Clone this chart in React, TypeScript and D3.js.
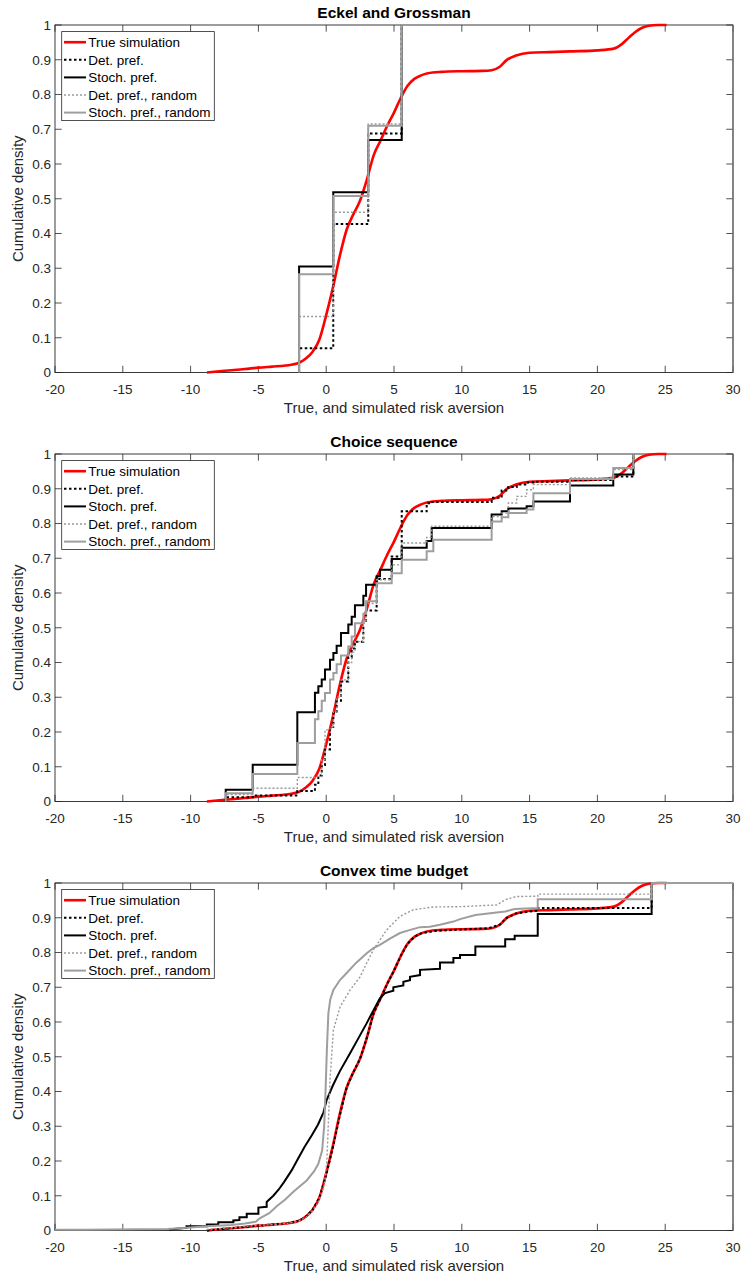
import * as d3 from "d3";

type Pt = [number, number];

// true simulated CDF (same in all three panels)
const trueSimulation: Pt[] = [
  [-8.8, 0], [-7.5, 0.005], [-6, 0.01], [-5, 0.014], [-4, 0.017], [-3, 0.02], [-2, 0.028],
  [-1.5, 0.04], [-1, 0.06], [-0.5, 0.095], [0, 0.165], [0.5, 0.245], [1, 0.335], [1.5, 0.41],
  [2, 0.455], [2.5, 0.495], [3, 0.555], [3.5, 0.625], [4, 0.667], [4.5, 0.71], [5, 0.748],
  [5.5, 0.79], [6, 0.825], [6.5, 0.845], [7, 0.855], [7.5, 0.861], [8.5, 0.865], [10, 0.867],
  [11.5, 0.868], [12.2, 0.87], [12.8, 0.88], [13.3, 0.899], [14, 0.912], [15, 0.92], [16.5, 0.922],
  [18, 0.924], [20, 0.927], [21.2, 0.932], [21.8, 0.945], [22.3, 0.963], [22.8, 0.98], [23.3, 0.992],
  [23.8, 0.998], [24.5, 1], [25.1, 1],
];

// Eckel and Grossman (step CDFs)
const egDet: Pt[] = [[-2, 0], [-2, 0.07], [0.52, 0.427], [3.1, 0.688], [5.57, 1]];
const egStoch: Pt[] = [[-2, 0], [-2, 0.305], [0.52, 0.519], [3.1, 0.669], [5.57, 1]];
const egDetRandom: Pt[] = [[-2, 0], [-2, 0.161], [0.52, 0.461], [3.1, 0.715], [5.57, 1]];
const egStochRandom: Pt[] = [[-2, 0], [-2, 0.283], [0.52, 0.508], [3.1, 0.71], [5.57, 1]];

// Choice sequence (step CDFs)
const csDet: Pt[] = [
  [-7.41, 0], [-7.41, 0.012], [-5.42, 0.017], [-2.13, 0.03], [-0.83, 0.048], [-0.58, 0.075],
  [-0.33, 0.105], [-0.09, 0.15], [0.28, 0.215], [0.53, 0.255], [0.77, 0.29], [1.09, 0.345],
  [1.63, 0.415], [1.88, 0.44], [2.12, 0.46], [2.74, 0.52], [2.94, 0.55], [3.72, 0.64], [4.83, 0.705],
  [5.57, 0.835], [7.41, 0.858], [7.78, 0.862], [12.2, 0.874], [12.94, 0.895], [13.43, 0.905],
  [14.05, 0.912], [14.78, 0.918], [15.28, 0.92], [17.98, 0.925], [21.17, 0.935], [22.65, 1],
];
const csStoch: Pt[] = [
  [-7.41, 0], [-7.41, 0.034], [-5.42, 0.106], [-2.13, 0.257], [-0.83, 0.313], [-0.58, 0.332],
  [-0.33, 0.351], [-0.09, 0.38], [0.28, 0.408], [0.53, 0.427], [0.77, 0.448], [1.09, 0.485],
  [1.63, 0.509], [1.88, 0.532], [2.12, 0.565], [2.74, 0.592], [2.94, 0.624], [3.72, 0.648],
  [3.97, 0.667], [4.83, 0.698], [5.57, 0.73], [7.41, 0.75], [7.78, 0.787], [12.2, 0.826],
  [12.94, 0.835], [13.43, 0.843], [14.78, 0.85], [15.28, 0.863], [17.98, 0.909], [21.17, 0.941],
  [22.65, 1],
];
const csDetRandom: Pt[] = [
  [-7.41, 0], [-7.41, 0.02], [-5.42, 0.038], [-2.13, 0.069], [-0.83, 0.072], [-0.33, 0.12],
  [-0.09, 0.206], [0.28, 0.215], [0.53, 0.26], [0.77, 0.3], [1.09, 0.35], [1.63, 0.4], [1.88, 0.43],
  [2.12, 0.46], [2.74, 0.52], [2.94, 0.57], [3.72, 0.638], [4.83, 0.681], [5.57, 0.744],
  [7.41, 0.76], [7.78, 0.792], [12.2, 0.82], [12.94, 0.83], [13.43, 0.859], [14.05, 0.878],
  [14.78, 0.897], [15.28, 0.912], [17.98, 0.931], [21.17, 0.955], [22.65, 1],
];
const csStochRandom: Pt[] = [
  [-7.41, 0], [-7.41, 0.024], [-5.42, 0.079], [-2.13, 0.168], [-0.83, 0.237], [-0.58, 0.26],
  [-0.33, 0.29], [-0.09, 0.312], [0.28, 0.351], [0.53, 0.37], [0.77, 0.395], [1.09, 0.42],
  [1.63, 0.446], [1.88, 0.475], [2.12, 0.513], [2.74, 0.54], [2.94, 0.576], [3.72, 0.628],
  [4.83, 0.657], [5.57, 0.696], [7.41, 0.72], [7.9, 0.753], [12.2, 0.806], [12.94, 0.818],
  [13.43, 0.83], [14.78, 0.84], [15.28, 0.887], [17.98, 0.928], [21.17, 0.96], [22.65, 1],
];

// Convex time budget (dense CDFs, drawn as lines)
const ctbDet: Pt[] = [
  [-8.8, 0], [-7.5, 0.005], [-6, 0.01], [-5, 0.014], [-4, 0.017], [-3, 0.02], [-2, 0.028],
  [-1.5, 0.04], [-1, 0.06], [-0.5, 0.095], [0, 0.16], [0.5, 0.24], [1, 0.33], [1.5, 0.41],
  [2, 0.455], [2.5, 0.495], [3, 0.555], [3.5, 0.625], [4, 0.667], [4.5, 0.71], [5, 0.748],
  [5.5, 0.79], [6, 0.825], [6.5, 0.845], [7, 0.855], [8, 0.862], [10, 0.866], [12, 0.87],
  [12.8, 0.88], [13.3, 0.9], [14, 0.912], [15, 0.918], [15.6, 0.92], [15.6, 0.928], [24, 0.928],
  [24, 1], [30, 1],
];
const ctbStoch: Pt[] = [
  [-11.6, 0.003], [-10.3, 0.008], [-10.3, 0.012], [-8.8, 0.012], [-8.8, 0.017], [-7.96, 0.017],
  [-7.96, 0.024], [-6.85, 0.024], [-6.85, 0.029], [-6.4, 0.03], [-6.4, 0.038], [-5.86, 0.038],
  [-5.86, 0.048], [-5, 0.048], [-5, 0.066], [-4.39, 0.068], [-4.39, 0.082], [-3.9, 0.1],
  [-3.5, 0.118], [-3.1, 0.14], [-2.55, 0.173], [-2.1, 0.205], [-1.6, 0.24], [-1.05, 0.275],
  [-0.6, 0.305], [-0.2, 0.34], [0.03, 0.375], [0.5, 0.418], [1, 0.458], [1.76, 0.51], [2.4, 0.555],
  [2.98, 0.596], [3.5, 0.635], [3.96, 0.668], [4.34, 0.683], [4.95, 0.69], [4.95, 0.7],
  [5.69, 0.705], [5.69, 0.716], [6.18, 0.72], [6.18, 0.73], [6.92, 0.735], [6.92, 0.75],
  [8.39, 0.753], [8.39, 0.771], [9.38, 0.771], [9.38, 0.784], [9.87, 0.784], [9.87, 0.793],
  [11, 0.793], [11, 0.817], [13.2, 0.817], [13.2, 0.838], [13.9, 0.838], [13.9, 0.848],
  [15.6, 0.848], [15.6, 0.911], [24, 0.911], [24, 1], [30, 1],
];
const ctbDetRandom: Pt[] = [
  [-8.8, 0.003], [-7, 0.008], [-6, 0.012], [-5, 0.015], [-4, 0.017], [-3, 0.02], [-2, 0.027],
  [-1.5, 0.038], [-1, 0.056], [-0.6, 0.08], [-0.3, 0.11], [-0.1, 0.14], [0.05, 0.2], [0.15, 0.3],
  [0.28, 0.433], [0.53, 0.577], [1.03, 0.644], [1.76, 0.692], [2.5, 0.73], [2.98, 0.769],
  [3.48, 0.808], [4.46, 0.865], [5.44, 0.904], [6.43, 0.923], [7.9, 0.931], [10, 0.932],
  [12.6, 0.937], [13.2, 0.952], [14, 0.961], [15.6, 0.962], [15.6, 0.968], [24, 0.968], [24, 1],
  [30, 1],
];
const ctbStochRandom: Pt[] = [
  [-20, 0.002], [-17.8, 0.002], [-11.7, 0.004], [-10.3, 0.008], [-8.8, 0.012], [-7, 0.016],
  [-6, 0.02], [-5.2, 0.025], [-4.9, 0.035], [-4.2, 0.05], [-3.65, 0.07], [-3, 0.09], [-2.4, 0.112],
  [-1.44, 0.144], [-0.9, 0.17], [-0.58, 0.192], [-0.3, 0.23], [-0.15, 0.3], [-0.05, 0.4],
  [0.05, 0.52], [0.16, 0.625], [0.3, 0.665], [0.53, 0.692], [1, 0.72], [1.51, 0.741], [2.2, 0.77],
  [2.99, 0.798], [3.48, 0.813], [3.96, 0.822], [4.7, 0.84], [5.44, 0.856], [6.2, 0.865],
  [6.92, 0.873], [7.65, 0.874], [8.39, 0.88], [9.38, 0.889], [9.87, 0.896], [11, 0.908],
  [13.2, 0.918], [13.9, 0.925], [15.6, 0.928], [15.6, 0.953], [24, 0.953], [24, 1], [30, 1],
];

const panelTitles = ["Eckel and Grossman", "Choice sequence", "Convex time budget"];
const seriesNames = ["True simulation", "Det. pref.", "Stoch. pref.", "Det. pref., random", "Stoch. pref., random"];
const xTicks = [-20, -15, -10, -5, 0, 5, 10, 15, 20, 25, 30];
const yTicks = [0, 0.1, 0.2, 0.3, 0.4, 0.5, 0.6, 0.7, 0.8, 0.9, 1];
const yTickLabels = ["0", "0.1", "0.2", "0.3", "0.4", "0.5", "0.6", "0.7", "0.8", "0.9", "1"];
const xLabel = "True, and simulated risk aversion";
const yLabel = "Cumulative density";

const panels = [
  { stepped: true, series: [trueSimulation, egDet, egStoch, egDetRandom, egStochRandom] },
  { stepped: true, series: [trueSimulation, csDet, csStoch, csDetRandom, csStochRandom] },
  { stepped: false, series: [trueSimulation, ctbDet, ctbStoch, ctbDetRandom, ctbStochRandom] },
];

const styles = [
  { color: "#ff0000", width: 2.6, dash: undefined },
  { color: "#000000", width: 2, dash: "2.5 2.5" },
  { color: "#000000", width: 2, dash: undefined },
  { color: "#999999", width: 1.4, dash: "2 2" },
  { color: "#9e9e9e", width: 2, dash: undefined },
];

const FONT = "'Liberation Sans', Arial, Helvetica, sans-serif";
const AX = "#262626";

const App = () => {
  const width = 743;
  const height = 1278;
  const left = 55;
  const right = 733;
  const h = 347.5;
  const tops = [25, 454, 883];
  const tick = 6.7;

  const x = d3.scaleLinear().domain([-20, 30]).range([left, right]);

  return (
    <svg
      width={width}
      height={height}
      style={{ position: "absolute", left: 0, top: 0, background: "#fff" }}
      fontFamily={FONT}
    >
      {panels.map((p, pi) => {
        const top = tops[pi];
        const bottom = top + h;
        const y = d3.scaleLinear().domain([0, 1]).range([bottom, top]);
        const cx = (left + right) / 2;
        const legX = 61.7;
        const legY = top + 6.6;

        return (
          <g key={pi}>
            <rect x={left} y={top} width={right - left} height={h} fill="#fff" />
            {/* ticks */}
            {xTicks.map(t => (
              <g key={"x" + t}>
                <line x1={x(t)} x2={x(t)} y1={bottom} y2={bottom - tick} stroke={AX} strokeWidth={0.8} />
                <line x1={x(t)} x2={x(t)} y1={top} y2={top + tick} stroke={AX} strokeWidth={0.8} />
                <text x={x(t)} y={bottom + 21} textAnchor="middle" fontSize={13.5} fill={AX}>
                  {t}
                </text>
              </g>
            ))}
            {yTicks.map((t, i) => (
              <g key={"y" + t}>
                <line x1={left} x2={left + tick} y1={y(t)} y2={y(t)} stroke={AX} strokeWidth={0.8} />
                <line x1={right} x2={right - tick} y1={y(t)} y2={y(t)} stroke={AX} strokeWidth={0.8} />
                <text x={51} y={y(t)} dy="0.36em" textAnchor="end" fontSize={13.5} fill={AX}>
                  {yTickLabels[i]}
                </text>
              </g>
            ))}
            <rect x={left} y={top} width={right - left} height={h} fill="none" stroke={AX} strokeWidth={0.9} />
            <line x1={right} x2={right} y1={top} y2={bottom} stroke="#7a7a7a" strokeWidth={1.4} />

            {/* curves */}
            {p.series.map((s, si) => {
              const st = styles[si];
              const curve = si === 0 ? d3.curveMonotoneX : p.stepped ? d3.curveStepAfter : d3.curveLinear;
              const line = d3
                .line<Pt>()
                .x(d => x(d[0]))
                .y(d => y(d[1]))
                .curve(curve);
              return (
                <path
                  key={si}
                  d={line(s) || ""}
                  fill="none"
                  stroke={st.color}
                  strokeWidth={st.width}
                  strokeDasharray={st.dash}
                  strokeLinejoin="miter"
                />
              );
            })}

            {/* title & labels */}
            <text x={cx} y={top - 7} textAnchor="middle" fontSize={15.5} fontWeight="bold" fill="#000">
              {panelTitles[pi]}
            </text>
            <text x={cx} y={bottom + 40.5} textAnchor="middle" fontSize={15} fill={AX}>
              {xLabel}
            </text>
            <text
              transform={`translate(22.5,${(top + bottom) / 2}) rotate(-90)`}
              textAnchor="middle"
              fontSize={15}
              fill={AX}
            >
              {yLabel}
            </text>

            {/* legend */}
            <rect x={legX} y={legY} width={152.6} height={89} fill="#fff" stroke={AX} strokeWidth={0.8} />
            {seriesNames.map((name, i) => {
              const ly = legY + 10.6 + i * 17.6;
              const st = styles[i];
              return (
                <g key={name}>
                  <line
                    x1={64}
                    x2={86}
                    y1={ly}
                    y2={ly}
                    stroke={st.color}
                    strokeWidth={st.width}
                    strokeDasharray={st.dash}
                  />
                  <text x={88.3} y={ly} dy="0.36em" fontSize={13.5} fill="#000">
                    {name}
                  </text>
                </g>
              );
            })}
          </g>
        );
      })}
    </svg>
  );
};

export default App;
